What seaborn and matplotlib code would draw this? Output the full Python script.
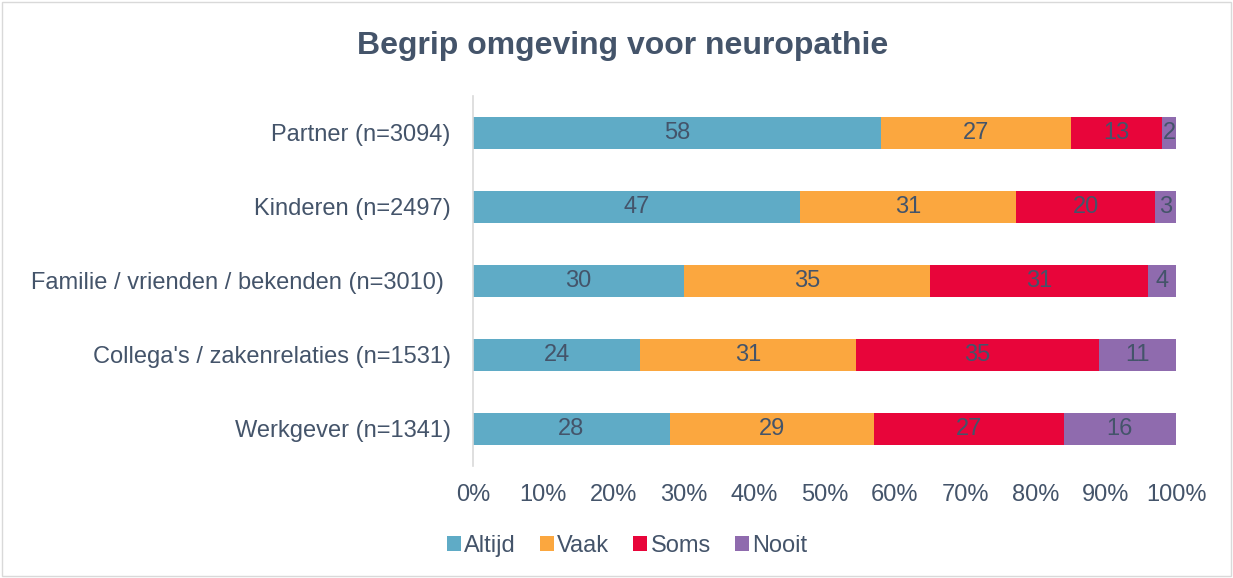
import matplotlib
matplotlib.use("Agg")
import matplotlib.pyplot as plt
import seaborn as sns
import pandas as pd
import numpy as np
from matplotlib.patches import Rectangle, Patch

categories = ["Partner (n=3094)", "Kinderen (n=2497)", "Familie / vrienden / bekenden (n=3010) ",
              "Collega's / zakenrelaties (n=1531)", "Werkgever (n=1341)"]
series = ["Altijd", "Vaak", "Soms", "Nooit"]
altijd = [58, 47, 30, 24, 28]
vaak = [27, 31, 35, 31, 29]
soms = [13, 20, 31, 35, 27]
nooit = [2, 3, 4, 11, 16]
colors = ["#5FABC6", "#FBA73F", "#E8053A", "#8F6BAE"]
xticklabels = ["0%", "10%", "20%", "30%", "40%", "50%", "60%", "70%", "80%", "90%", "100%"]

sns.set_theme(style="white")
plt.rcParams["font.family"] = ["Liberation Sans", "DejaVu Sans"]
txt = "#44546A"
fs = 17

df = pd.DataFrame({"cat": categories, "Altijd": altijd, "Vaak": vaak, "Soms": soms, "Nooit": nooit})
tot = df[series].sum(axis=1)
fr = df[series].div(tot, axis=0)
cum = fr.cumsum(axis=1)

fig = plt.figure(figsize=(12.33, 5.78), dpi=100)
ax = fig.add_axes([473/1233, 1-466/578, (1176-473)/1233, 370/578])

# stacked bars: draw cumulative totals from widest to narrowest
for s, c in reversed(list(zip(series, colors))):
    sns.barplot(x=cum[s], y=df["cat"], color=c, ax=ax, width=0.43, orient="h",
                saturation=1, edgecolor="none", linewidth=0)

for i in range(len(df)):
    left = 0.0
    for s in series:
        f = fr[s].iloc[i]
        ax.text(left + f/2, i, f"{df[s].iloc[i]}", ha="center", va="center",
                color=txt, fontsize=fs, zorder=5)
        left += f

ax.set_xlim(0, 1)
ax.set_ylim(len(df) - 0.5, -0.5)
ax.set_yticks(range(len(df)))
ax.set_yticklabels(categories, color=txt, fontsize=fs)
ax.set_xticks(np.linspace(0, 1, 11))
ax.set_xticklabels(xticklabels, color=txt, fontsize=fs)
ax.tick_params(axis="x", pad=13, length=0)
ax.tick_params(axis="y", pad=16, length=0)
ax.set_xlabel("")
ax.set_ylabel("")
for sp in ["top", "right", "bottom"]:
    ax.spines[sp].set_visible(False)
ax.spines["left"].set_color("#D9D9D9")
ax.spines["left"].set_linewidth(1.2)

fig.text(623/1233, 1-46/578, "Begrip omgeving voor neuropathie", ha="center", va="center",
         fontsize=23, fontweight="bold", color=txt)

handles = [Patch(facecolor=c, edgecolor="none", label=s) for s, c in zip(series, colors)]
fig.legend(handles=handles, loc="center", bbox_to_anchor=(627/1233, 1-546/578), ncol=4, frameon=False,
           fontsize=fs, labelcolor=txt, handlelength=0.6, handleheight=0.6,
           handletextpad=0.15, columnspacing=1.0)

fig.patches.append(Rectangle((0.002, 0.003), 0.996, 0.994, transform=fig.transFigure,
                             fill=False, edgecolor="#D9D9D9", linewidth=1))
fig.savefig("out.png", dpi=100)
